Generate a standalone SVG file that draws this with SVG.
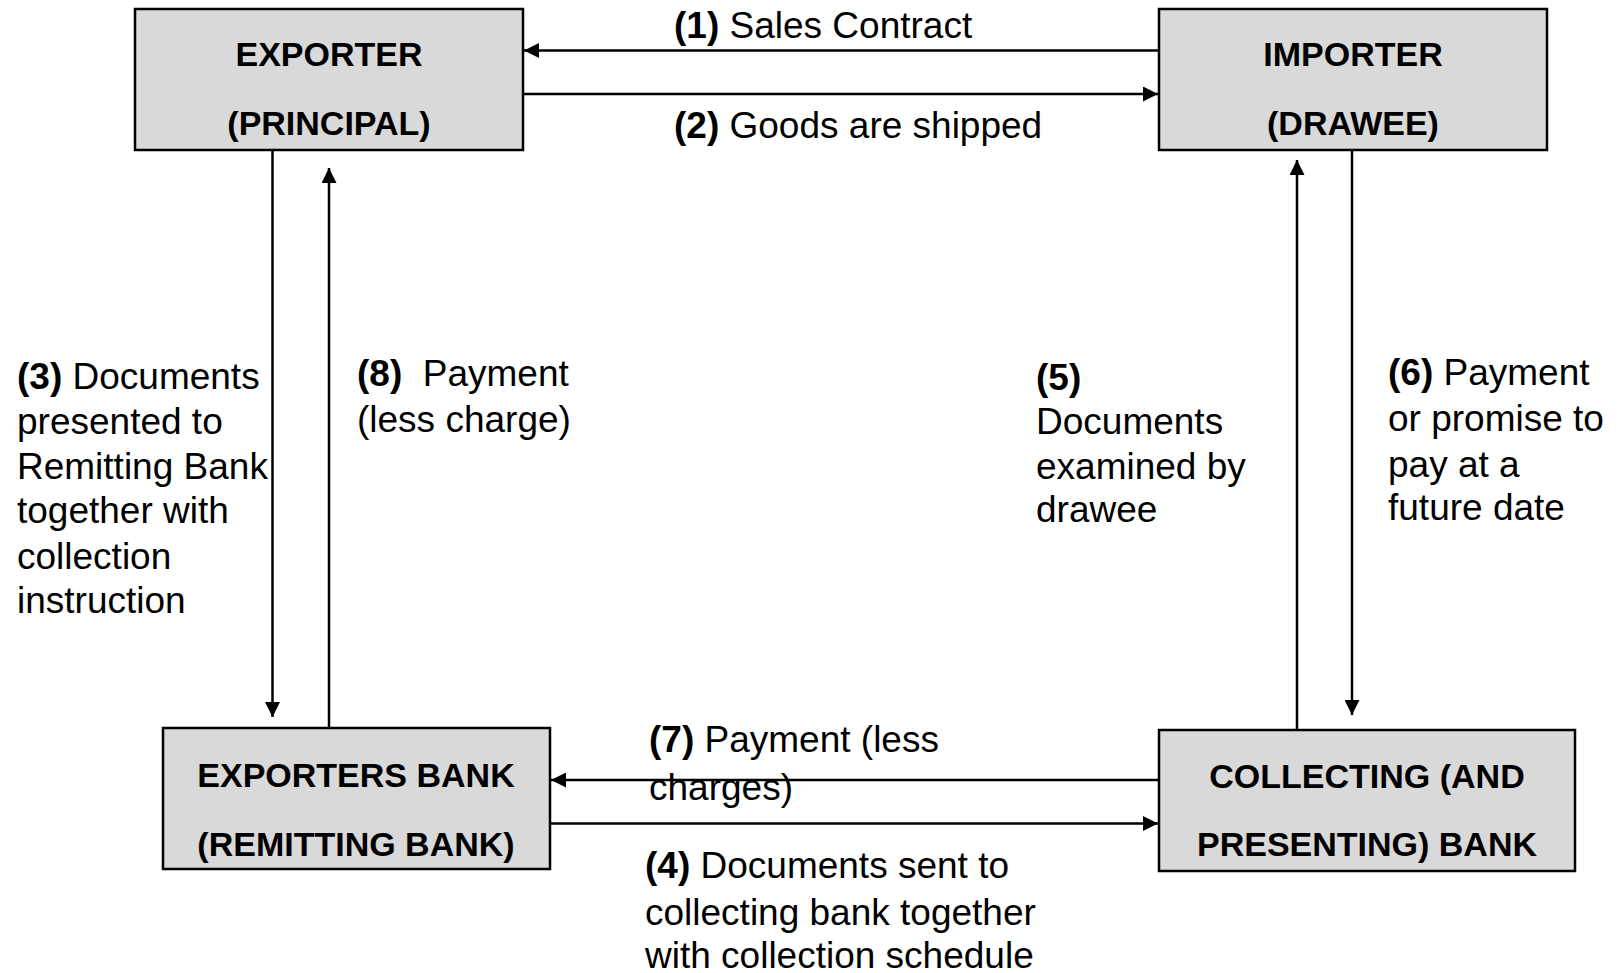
<svg xmlns="http://www.w3.org/2000/svg" width="1618" height="973" viewBox="0 0 1618 973">
  <style>
    .box { fill: #d9d9d9; stroke: #000; stroke-width: 2.5; }
    .node-text { font-family: "Liberation Sans", Arial, sans-serif; font-weight: bold; font-size: 34px; fill: #000; text-anchor: middle; }
    .label { font-family: "Liberation Sans", Arial, sans-serif; font-size: 37px; fill: #000; }
    .label .num { font-weight: bold; }
    .conn { stroke: #000; stroke-width: 2.5; fill: none; marker-end: url(#arrow); }
  </style>
  <defs>
    <marker id="arrow" viewBox="0 0 15 15" refX="15" refY="7.5" markerWidth="15" markerHeight="15" markerUnits="userSpaceOnUse" orient="auto">
      <path d="M0,0 L15,7.5 L0,15 Z" fill="#000"/>
    </marker>
  </defs>
  <rect width="1618" height="973" fill="#fff"/>

  <!-- Connectors -->
  <g id="connectors">
    <line class="conn" x1="1159" y1="50.5" x2="524" y2="50.5"/>
    <line class="conn" x1="524" y1="94" x2="1158" y2="94"/>
    <line class="conn" x1="272.5" y1="151" x2="272.5" y2="717"/>
    <line class="conn" x1="329" y1="728" x2="329" y2="168"/>
    <line class="conn" x1="1297" y1="730" x2="1297" y2="160"/>
    <line class="conn" x1="1352" y1="151" x2="1352" y2="715"/>
    <line class="conn" x1="1159" y1="780" x2="551" y2="780"/>
    <line class="conn" x1="551" y1="823.5" x2="1158" y2="823.5"/>
  </g>

  <!-- Nodes -->
  <g id="exporter">
    <rect class="box" x="135" y="9" width="388" height="141"/>
    <text class="node-text" x="329" y="66">EXPORTER</text>
    <text class="node-text" x="329" y="135">(PRINCIPAL)</text>
  </g>
  <g id="importer">
    <rect class="box" x="1159" y="9" width="388" height="141"/>
    <text class="node-text" x="1353" y="66">IMPORTER</text>
    <text class="node-text" x="1353" y="135">(DRAWEE)</text>
  </g>
  <g id="exporters-bank">
    <rect class="box" x="163" y="728" width="387" height="141"/>
    <text class="node-text" x="356" y="787">EXPORTERS BANK</text>
    <text class="node-text" x="356" y="856">(REMITTING BANK)</text>
  </g>
  <g id="collecting-bank">
    <rect class="box" x="1159" y="730" width="416" height="141"/>
    <text class="node-text" x="1367" y="788">COLLECTING (AND</text>
    <text class="node-text" x="1367" y="856">PRESENTING) BANK</text>
  </g>

  <!-- Step labels -->
  <g id="labels">
    <text class="label" x="674" y="38"><tspan class="num">(1)</tspan> Sales Contract</text>
    <text class="label" x="674" y="138"><tspan class="num">(2)</tspan> Goods are shipped</text>

    <text class="label" x="17">
      <tspan x="17" y="389"><tspan class="num">(3)</tspan> Documents</tspan>
      <tspan x="17" y="434">presented to</tspan>
      <tspan x="17" y="479">Remitting Bank</tspan>
      <tspan x="17" y="523">together with</tspan>
      <tspan x="17" y="569">collection</tspan>
      <tspan x="17" y="613">instruction</tspan>
    </text>

    <text class="label" x="357" xml:space="preserve">
      <tspan x="357" y="386"><tspan class="num">(8)</tspan>  Payment</tspan>
      <tspan x="357" y="432">(less charge)</tspan>
    </text>

    <text class="label" x="1036">
      <tspan x="1036" y="390" class="num">(5)</tspan>
      <tspan x="1036" y="434">Documents</tspan>
      <tspan x="1036" y="479">examined by</tspan>
      <tspan x="1036" y="522">drawee</tspan>
    </text>

    <text class="label" x="1388">
      <tspan x="1388" y="385"><tspan class="num">(6)</tspan> Payment</tspan>
      <tspan x="1388" y="431">or promise to</tspan>
      <tspan x="1388" y="477">pay at a</tspan>
      <tspan x="1388" y="520">future date</tspan>
    </text>

    <text class="label" x="649">
      <tspan x="649" y="752"><tspan class="num">(7)</tspan> Payment (less</tspan>
      <tspan x="649" y="800">charges)</tspan>
    </text>

    <text class="label" x="645">
      <tspan x="645" y="878"><tspan class="num">(4)</tspan> Documents sent to</tspan>
      <tspan x="645" y="925">collecting bank together</tspan>
      <tspan x="645" y="968">with collection schedule</tspan>
    </text>
  </g>
</svg>
